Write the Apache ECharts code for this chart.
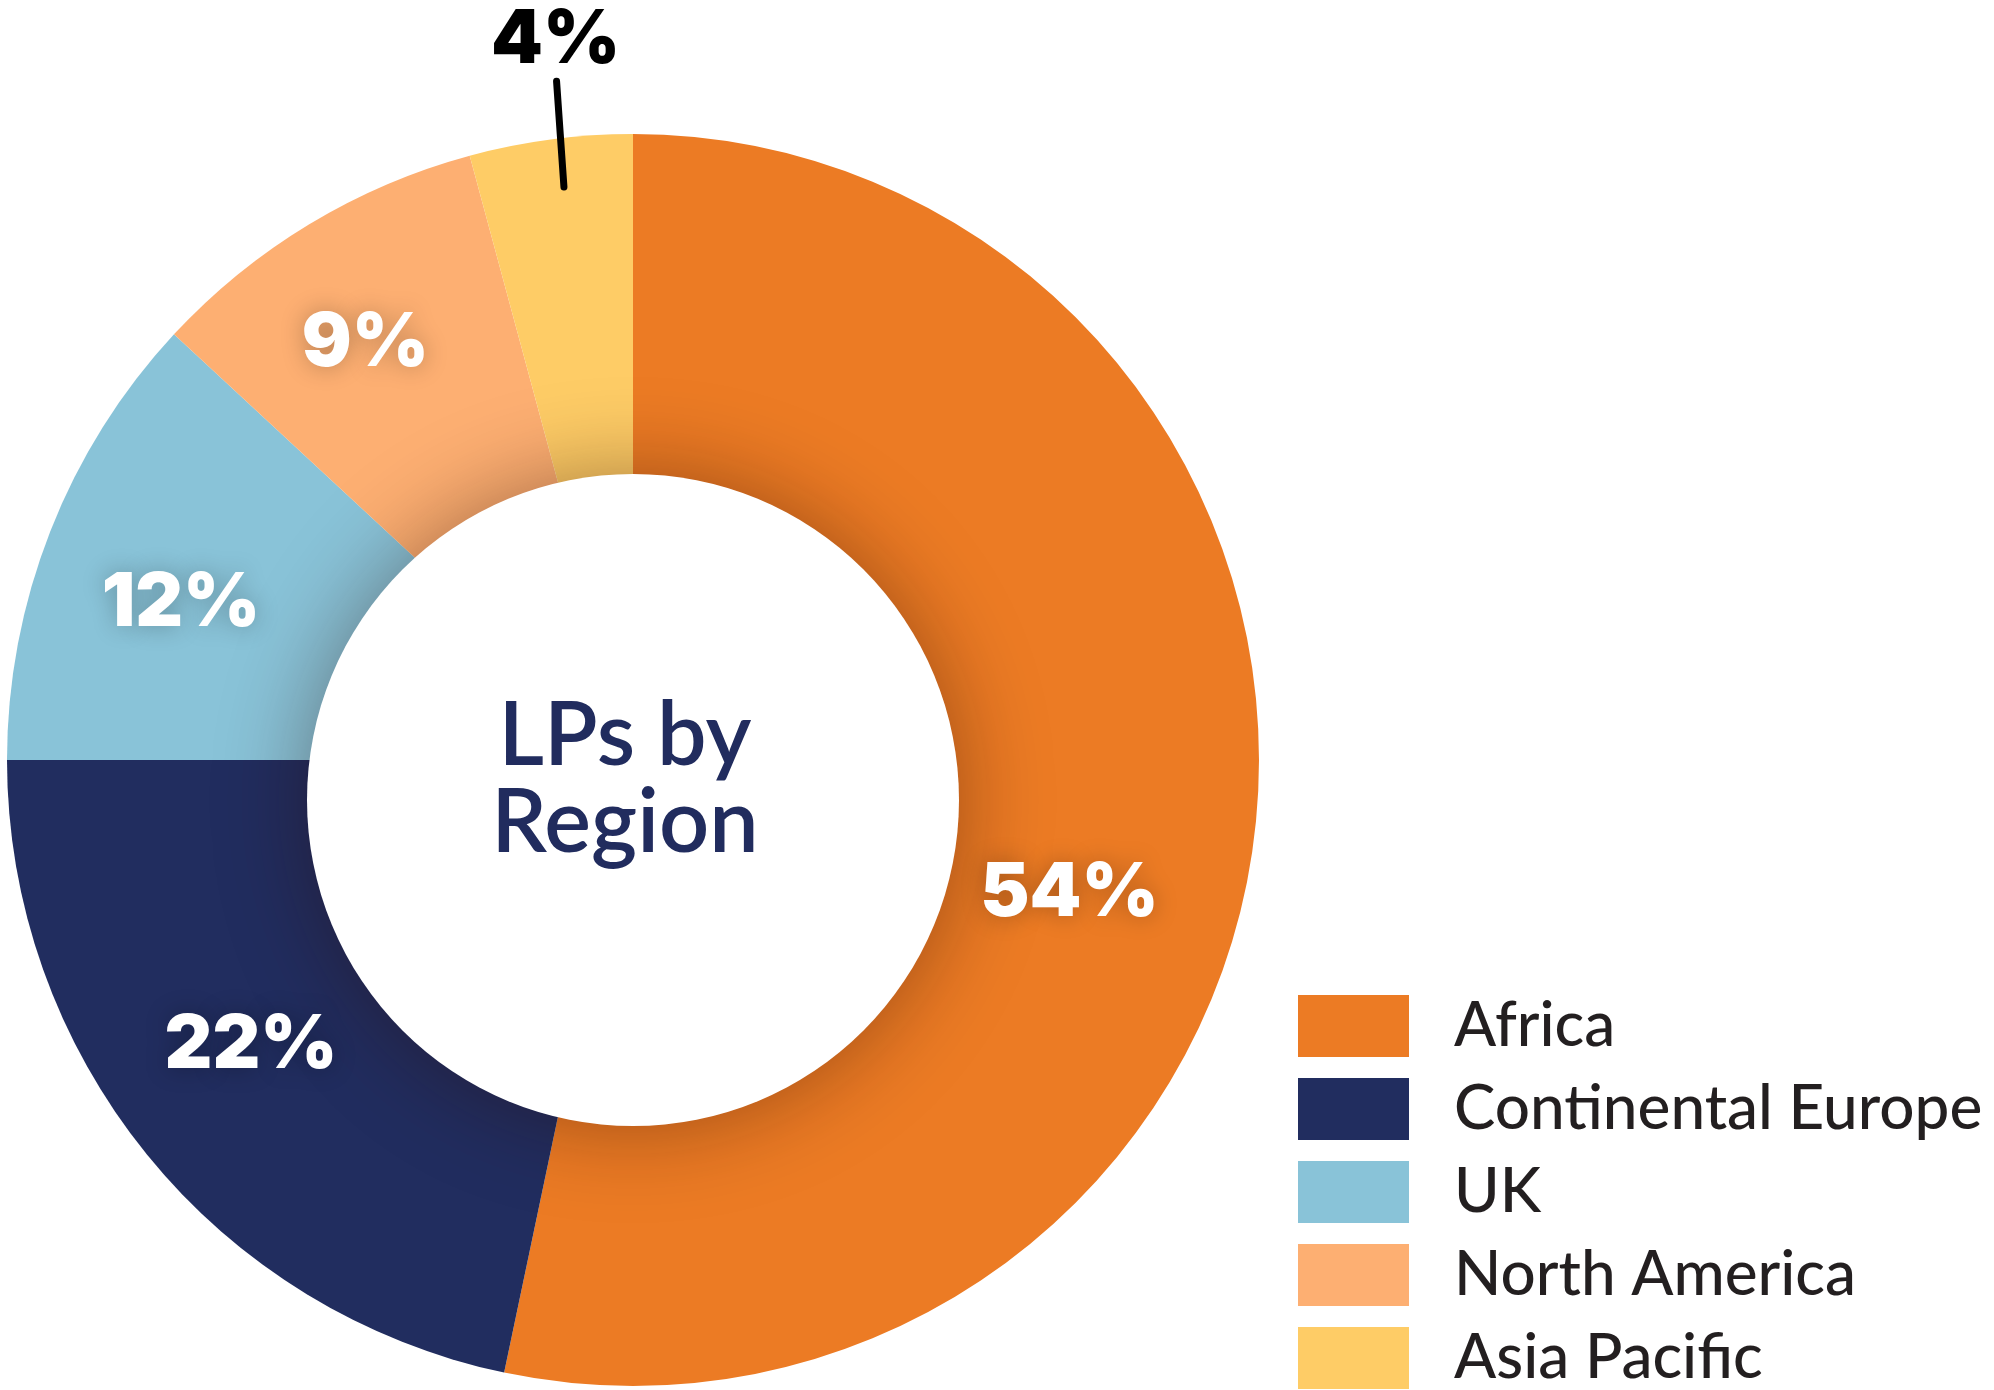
<!DOCTYPE html>
<html>
<head>
<meta charset="utf-8">
<script src="https://cdn.jsdelivr.net/npm/echarts@6/dist/echarts.min.js"></script>
<style>
    html, body { margin: 0; padding: 0; background: #ffffff; }
    #pie { width: 1994px; height: 1390px; }
</style>
</head>
<body>
<div id="pie"></div>
<script>
    // data
    const regions = ['Africa', 'Continental Europe', 'UK', 'North America', 'Asia Pacific'];
    const shares = [53.3, 21.7, 11.9, 8.9, 4.2];
    const shareLabels = ['54%', '22%', '12%', '9%', '4%'];
    const colors = ['#EC7B24', '#212D5F', '#89C3D8', '#FDAF72', '#FECC66'];

    const CX = 633, CY = 760, R_OUT = 626, R_IN = 326;
    const textFont = 'Lato';
    const numberFont = 'Inter';
    // small hand nudges so the in-ring labels sit where the designer put them
    const labelNudge = [[-40, 84], [-10, -16], [-6, 19], [-20, -6], [7, 0]];

    const myChart = echarts.init(document.getElementById('pie'));

    const sliceData = regions.map((name, i) => ({
        name: name,
        value: shares[i],
        itemStyle: { color: colors[i] }
    }));

    const labelData = regions.map((name, i) => {
        const item = {
            name: name,
            value: shares[i],
            label: { formatter: shareLabels[i] }
        };
        if (i === regions.length - 1) {
            // small slice: label sits outside with a leader line
            item.label = {
                formatter: shareLabels[i],
                position: 'outside',
                color: '#000000',
                textShadowBlur: 0,
                textShadowColor: 'transparent'
            };
            item.labelLine = {
                show: true,
                length: 58,
                length2: 0,
                smooth: false,
                lineStyle: { color: '#000000', width: 7, cap: 'round' }
            };
        }
        return item;
    });

    const option = {
        backgroundColor: '#ffffff',
        animation: false,
        title: {
            text: 'LPs by\nRegion',
            left: 620,
            top: 688,
            textAlign: 'center',
            textStyle: {
                fontFamily: textFont,
                fontWeight: 600,
                fontSize: 88,
                lineHeight: 87,
                color: '#212C5E'
            }
        },
        legend: {
            orient: 'vertical',
            left: 1298,
            top: 995,
            padding: 0,
            icon: 'rect',
            itemWidth: 111,
            itemHeight: 62,
            itemGap: 21,
            data: regions,
            selectedMode: false,
            textStyle: {
                fontFamily: textFont,
                fontWeight: 500,
                fontSize: 62,
                color: '#231F20',
                padding: [0, 0, 0, 40]
            }
        },
        graphic: [
            {
                type: 'circle',
                z: 5,
                silent: true,
                shape: { cx: CX, cy: CY + 40, r: R_IN },
                style: {
                    fill: '#ffffff',
                    shadowBlur: 90,
                    shadowColor: 'rgba(40, 10, 0, 0.4)'
                }
            }
        ],
        series: [
            {
                type: 'pie',
                z: 1,
                silent: true,
                center: [CX, CY],
                radius: [0, R_OUT],
                startAngle: 90,
                clockwise: true,
                label: { show: false },
                labelLine: { show: false },
                data: sliceData
            },
            {
                type: 'pie',
                z: 10,
                silent: true,
                center: [CX, CY],
                radius: [R_IN, R_OUT],
                startAngle: 90,
                clockwise: true,
                avoidLabelOverlap: false,
                itemStyle: { color: 'rgba(0,0,0,0)' },
                emphasis: { disabled: true },
                label: {
                    show: true,
                    position: 'inside',
                    fontFamily: numberFont,
                    fontWeight: 900,
                    fontSize: 74,
                    color: '#ffffff',
                    textShadowColor: 'rgba(0, 0, 0, 0.28)',
                    textShadowBlur: 24
                },
                labelLine: { show: false },
                labelLayout: function (params) {
                    const i = params.dataIndex;
                    const pts = params.labelLinePoints;
                    if (i === regions.length - 1 && pts) {
                        const a = pts[0], b = pts[1];
                        const len = Math.hypot(b[0] - a[0], b[1] - a[1]) || 1;
                        const ux = (b[0] - a[0]) / len, uy = (b[1] - a[1]) / len;
                        const start = [a[0] - ux * 48 + labelNudge[i][0], a[1] - uy * 48 + labelNudge[i][1]];
                        // leader line leans a little less than the radius
                        const tilt = 4 * Math.PI / 180;
                        const end = [start[0] - Math.sin(tilt) * 106, start[1] - Math.cos(tilt) * 106];
                        return {
                            x: end[0] - 1,
                            y: end[1] - 4,
                            align: 'center',
                            verticalAlign: 'bottom',
                            labelLinePoints: [start, [(start[0] + end[0]) / 2, (start[1] + end[1]) / 2], end]
                        };
                    }
                    return { dx: labelNudge[i][0], dy: labelNudge[i][1] };
                },
                data: labelData
            }
        ]
    };

    myChart.setOption(option);
</script>
</body>
</html>
